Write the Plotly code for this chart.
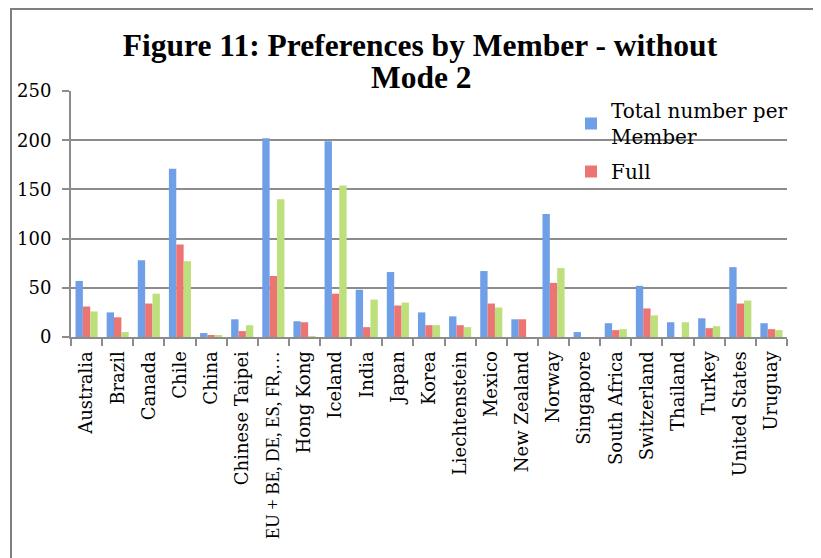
import plotly.graph_objects as go

members = [
    "Australia", "Brazil", "Canada", "Chile", "China", "Chinese Taipei",
    "EU + BE, DE, ES, FR,…", "Hong Kong", "Iceland", "India", "Japan", "Korea",
    "Liechtenstein", "Mexico", "New Zealand", "Norway", "Singapore",
    "South Africa", "Switzerland", "Thailand", "Turkey", "United States", "Uruguay",
]
total_per_member = [57, 25, 78, 171, 4, 18, 202, 16, 199, 48, 66, 25,
                    21, 67, 18, 125, 5, 14, 52, 15, 19, 71, 14]
full = [31, 20, 34, 94, 2, 6, 62, 15, 44, 10, 32, 12,
        12, 34, 18, 55, 0, 7, 29, 0, 9, 34, 8]
third_series = [26, 5, 44, 77, 2, 12, 140, 1, 154, 38, 35, 12,
                10, 30, 0, 70, 0, 8, 22, 15, 11, 37, 7]

FONT = "DejaVu Serif"
TITLE_FONT = "Liberation Serif"

# the long EU label uses a narrower serif so it fits like in the original
tick_text = [m if not m.startswith("EU")
             else f'<span style="font-family:Liberation Serif;font-size:18.5px">{m}</span>'
             for m in members]

fig = go.Figure()
fig.add_trace(go.Bar(x=members, y=total_per_member, name="Total number per<br>Member",
                     legendgroup="a",
                     marker=dict(color="#6f9fe6", line=dict(width=0))))
fig.add_trace(go.Bar(x=members, y=full, name="Full", legendgroup="b",
                     marker=dict(color="#ec7472", line=dict(width=0))))
fig.add_trace(go.Bar(x=members, y=third_series, name="Partial", showlegend=False,
                     legendgroup="c",
                     marker=dict(color="#bde07c", line=dict(width=0))))

# the page body adds 8px, so the figure is drawn at 813x550
W, H = 813, 550
L, R, T, B = 63, 34, 83, 221
pw, ph = W - L - R, H - T - B


def px_x(x):
    return (x - L) / pw


def px_y(y):
    return (T + ph - y) / ph


fig.update_layout(
    width=W, height=H,
    margin=dict(l=L, r=R, t=T, b=B, autoexpand=False),
    paper_bgcolor="white", plot_bgcolor="white",
    font=dict(family=FONT, color="black"),
    barmode="group", bargap=0.29, bargroupgap=0,
    title=dict(
        text="<b>Figure 11: Preferences by Member - without</b>",
        x=px_x(412), xref="paper", xanchor="center",
        y=1 - 48 / H, yanchor="bottom",
        font=dict(family=TITLE_FONT, size=31.5, color="black"),
    ),
    legend=dict(
        x=px_x(563), y=px_y(83), xanchor="left", yanchor="top",
        bgcolor="rgba(0,0,0,0)", font=dict(family=FONT, size=20),
        itemwidth=30, traceorder="grouped", tracegroupgap=6,
    ),
    showlegend=True,
)
# second line of the title
fig.add_annotation(
    text="<b>Mode 2</b>", xref="paper", yref="paper",
    x=px_x(413), y=px_y(82), xanchor="center", yanchor="bottom",
    showarrow=False, font=dict(family=TITLE_FONT, size=31.5, color="black"),
    yshift=-7,
)
fig.update_xaxes(
    tickangle=-90, tickfont=dict(family=FONT, size=18), automargin=False,
    tickmode="array", tickvals=members, ticktext=tick_text,
    showline=True, linecolor="#8c8c8c", linewidth=2,
    ticks="outside", tickson="boundaries", ticklen=7, tickcolor="#8c8c8c", tickwidth=2,
    ticklabelstandoff=5, showgrid=False,
)
fig.update_yaxes(
    range=[0, 250], dtick=50, tickfont=dict(family=FONT, size=18), automargin=False,
    showline=True, linecolor="#8c8c8c", linewidth=2,
    ticks="outside", ticklen=7, tickcolor="#8c8c8c", tickwidth=2,
    ticklabelstandoff=7,
    showgrid=True, gridcolor="#8c8c8c", gridwidth=2, zeroline=False,
)

# outer chart frame
fig.add_shape(type="rect", xref="paper", yref="paper",
              x0=px_x(3), x1=px_x(830), y0=px_y(570), y1=px_y(1),
              line=dict(color="#7f7f7f", width=2), layer="below")

fig.write_html("out.html")
